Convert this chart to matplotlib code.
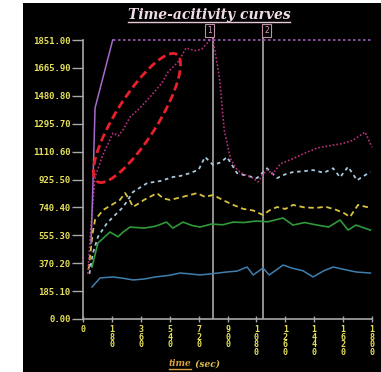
import matplotlib.pyplot as plt
import numpy as np
from matplotlib.patches import Ellipse, Rectangle
from matplotlib.transforms import IdentityTransform

# ---- data ----
y_ticks = np.round(np.arange(11) * 185.1, 2)
x_ticks = [0, 180, 360, 540, 720, 900, 1080, 1260, 1440, 1620, 1800]
markers = [810, 1121]
marker_names = ["1", "2"]

t_purple = [50, 62, 75, 185, 400, 800, 1200, 1600, 1800]
v_purple = [500, 900, 1400, 1851, 1851, 1851, 1851, 1851, 1851]

t_magenta = [30, 50, 75, 120, 187, 220, 249, 293, 355, 417, 492, 530, 592, 642,
             700, 740, 790, 810, 850, 880, 920, 960, 1000, 1050, 1090, 1120,
             1150, 1180, 1230, 1300, 1380, 1460, 1540, 1620, 1680, 1757, 1800]
v_magenta = [300, 620, 942, 1080, 1234, 1215, 1254, 1340, 1400, 1473, 1566, 1639,
             1705, 1798, 1780, 1790, 1851, 1851, 1600, 1250, 1060, 990, 960, 940,
             910, 960, 990, 960, 1030, 1060, 1100, 1135, 1150, 1165, 1185, 1240,
             1140]

t_cyan = [40, 60, 93, 150, 250, 312, 400, 480, 561, 610, 667, 720, 760, 810, 860,
          897, 959, 1020, 1084, 1146, 1209, 1260, 1308, 1370, 1433, 1500, 1558,
          1601, 1651, 1707, 1750, 1790]
v_cyan = [300, 430, 545, 637, 743, 843, 902, 915, 942, 950, 968, 990, 1075, 1022,
          1040, 1075, 968, 950, 935, 1000, 935, 960, 975, 980, 988, 970, 1000, 940,
          1010, 920, 950, 975]

t_yellow = [35, 60, 75, 125, 230, 262, 290, 312, 380, 461, 500, 542, 620, 710,
            760, 810, 870, 935, 1000, 1060, 1121, 1160, 1209, 1260, 1308, 1380,
            1452, 1510, 1577, 1630, 1663, 1713, 1790]
v_yellow = [330, 570, 657, 723, 790, 836, 790, 743, 790, 835, 800, 790, 810, 835,
            810, 823, 790, 757, 730, 720, 690, 720, 743, 730, 757, 740, 737, 745,
            724, 700, 677, 757, 737]

t_green = [56, 93, 168, 218, 250, 293, 380, 450, 520, 560, 623, 680, 729, 800,
           870, 935, 1000, 1080, 1150, 1246, 1308, 1380, 1450, 1530, 1601, 1651,
           1700, 1790]
v_green = [345, 504, 577, 545, 577, 610, 603, 615, 643, 603, 643, 620, 610, 630,
           625, 643, 640, 650, 645, 670, 623, 640, 625, 610, 657, 590, 623, 590]

t_blue = [56, 106, 187, 250, 312, 380, 450, 540, 604, 660, 729, 800, 897, 960,
          1022, 1060, 1121, 1160, 1246, 1300, 1370, 1433, 1500, 1558, 1620, 1700,
          1790]
v_blue = [212, 272, 279, 270, 259, 265, 279, 290, 305, 300, 292, 300, 312, 318,
          345, 292, 338, 292, 358, 338, 320, 279, 320, 345, 330, 312, 305]

# ---- figure ----
fig = plt.figure(figsize=(3.81, 3.72), dpi=100, facecolor="white")
fig.patches.append(Rectangle((23 / 381, 0), 1, 369 / 372, transform=fig.transFigure,
                             facecolor="black", edgecolor="none", zorder=-10))

ax = fig.add_axes([83 / 381, 53 / 372, 289 / 381, 279 / 372])
ax.patch.set_alpha(0)
ax.set_xlim(0, 1800)
ax.set_ylim(0, 1851)

axis_gray = "#a8a8a8"
for side in ["top", "right"]:
    ax.spines[side].set_visible(False)
for side in ["left", "bottom"]:
    ax.spines[side].set_color(axis_gray)
    ax.spines[side].set_linewidth(1.2)

tick_yellow = "#e6e05a"
ax.set_yticks(y_ticks)
ax.set_yticklabels([f"{v:.2f}" for v in y_ticks], family="DejaVu Sans Mono",
                   fontsize=6.5, fontweight="bold", color=tick_yellow)
ax.set_xticks(x_ticks)
ax.set_xticklabels(["\n".join(str(x)) for x in x_ticks], family="DejaVu Sans Mono",
                   fontsize=6, fontweight="bold", color=tick_yellow, linespacing=0.85,
                   va="top")
ax.tick_params(axis="y", colors=axis_gray, length=8, width=1, labelcolor=tick_yellow, pad=1)
ax.tick_params(axis="x", colors=axis_gray, length=4, width=1, direction="inout",
               labelcolor=tick_yellow, pad=2)

# markers
ax.vlines(markers, 0, 1870, color="#b8b8b8", linewidth=1.1, clip_on=False, zorder=1)
for m, name, ha, dx in zip(markers, marker_names, ["right", "left"], [-0.5, 0.5]):
    ax.annotate(name, xy=(m, 1851), xytext=(dx * 2, 7), textcoords="offset points",
                ha=ha, va="center", fontsize=5.5, color="#d0a0b8",
                annotation_clip=False,
                bbox=dict(boxstyle="square,pad=0.25", facecolor="black",
                          edgecolor="#c090a8", linewidth=0.8))

# curves
ax.plot(t_blue, v_blue, color="#3f7fae", linewidth=1.1, clip_on=False)
ax.plot(t_green, v_green, color="#2e9a3a", linewidth=1.2, clip_on=False)
ax.plot(t_yellow, v_yellow, color="#d8c23e", linewidth=1.3, linestyle=(0, (3, 2)),
        clip_on=False)
ax.plot(t_cyan, v_cyan, color="#a8c8dc", linewidth=1.3, linestyle=(0, (2, 2)),
        clip_on=False)
ax.plot(t_magenta, v_magenta, color="#b8307e", linewidth=1.2, linestyle=(0, (1, 1.2)),
        clip_on=False)
ax.plot(t_purple[:4], v_purple[:4], color="#a56cc8", linewidth=1.1, clip_on=False)
ax.plot(t_purple[3:], v_purple[3:], color="#a05cb8", linewidth=1.2,
        linestyle=(0, (1.5, 1.5)), clip_on=False)

# red highlight ellipse (drawn in pixel space, origin bottom-left)
fig.patches.append(Ellipse((137, 372 - 118), 42, 150, angle=-32,
                           transform=IdentityTransform(), fill=False,
                           edgecolor="#e8202a", linewidth=2,
                           linestyle=(0, (3, 1.5)), zorder=5))

# title and x label with underlines
title = fig.text(209 / 381, 1 - 15 / 372, "Time-acitivity curves", ha="center",
                 va="center", family="DejaVu Serif", style="italic",
                 fontweight="bold", fontsize=10, color="#f0dce6")
xl1 = fig.text(180 / 381, 1 - 364 / 372, "time", ha="center", va="center",
               family="DejaVu Serif", style="italic", fontweight="bold",
               fontsize=6.5, color="#e0a040")
xl2 = fig.text(192 / 381, 1 - 364 / 372, " (sec)", ha="left", va="center",
               family="DejaVu Serif", style="italic", fontweight="bold",
               fontsize=6.5, color="#e0c050")

fig.canvas.draw()
renderer = fig.canvas.get_renderer()
for txt, col in [(title, "#e8c8d8"), (xl1, "#e0a040")]:
    bb = txt.get_window_extent(renderer)
    fig.add_artist(plt.Line2D([bb.x0, bb.x1], [bb.y0, bb.y0],
                              transform=IdentityTransform(), color=col, linewidth=1))

fig.savefig("out.png", dpi=100, facecolor="white")
